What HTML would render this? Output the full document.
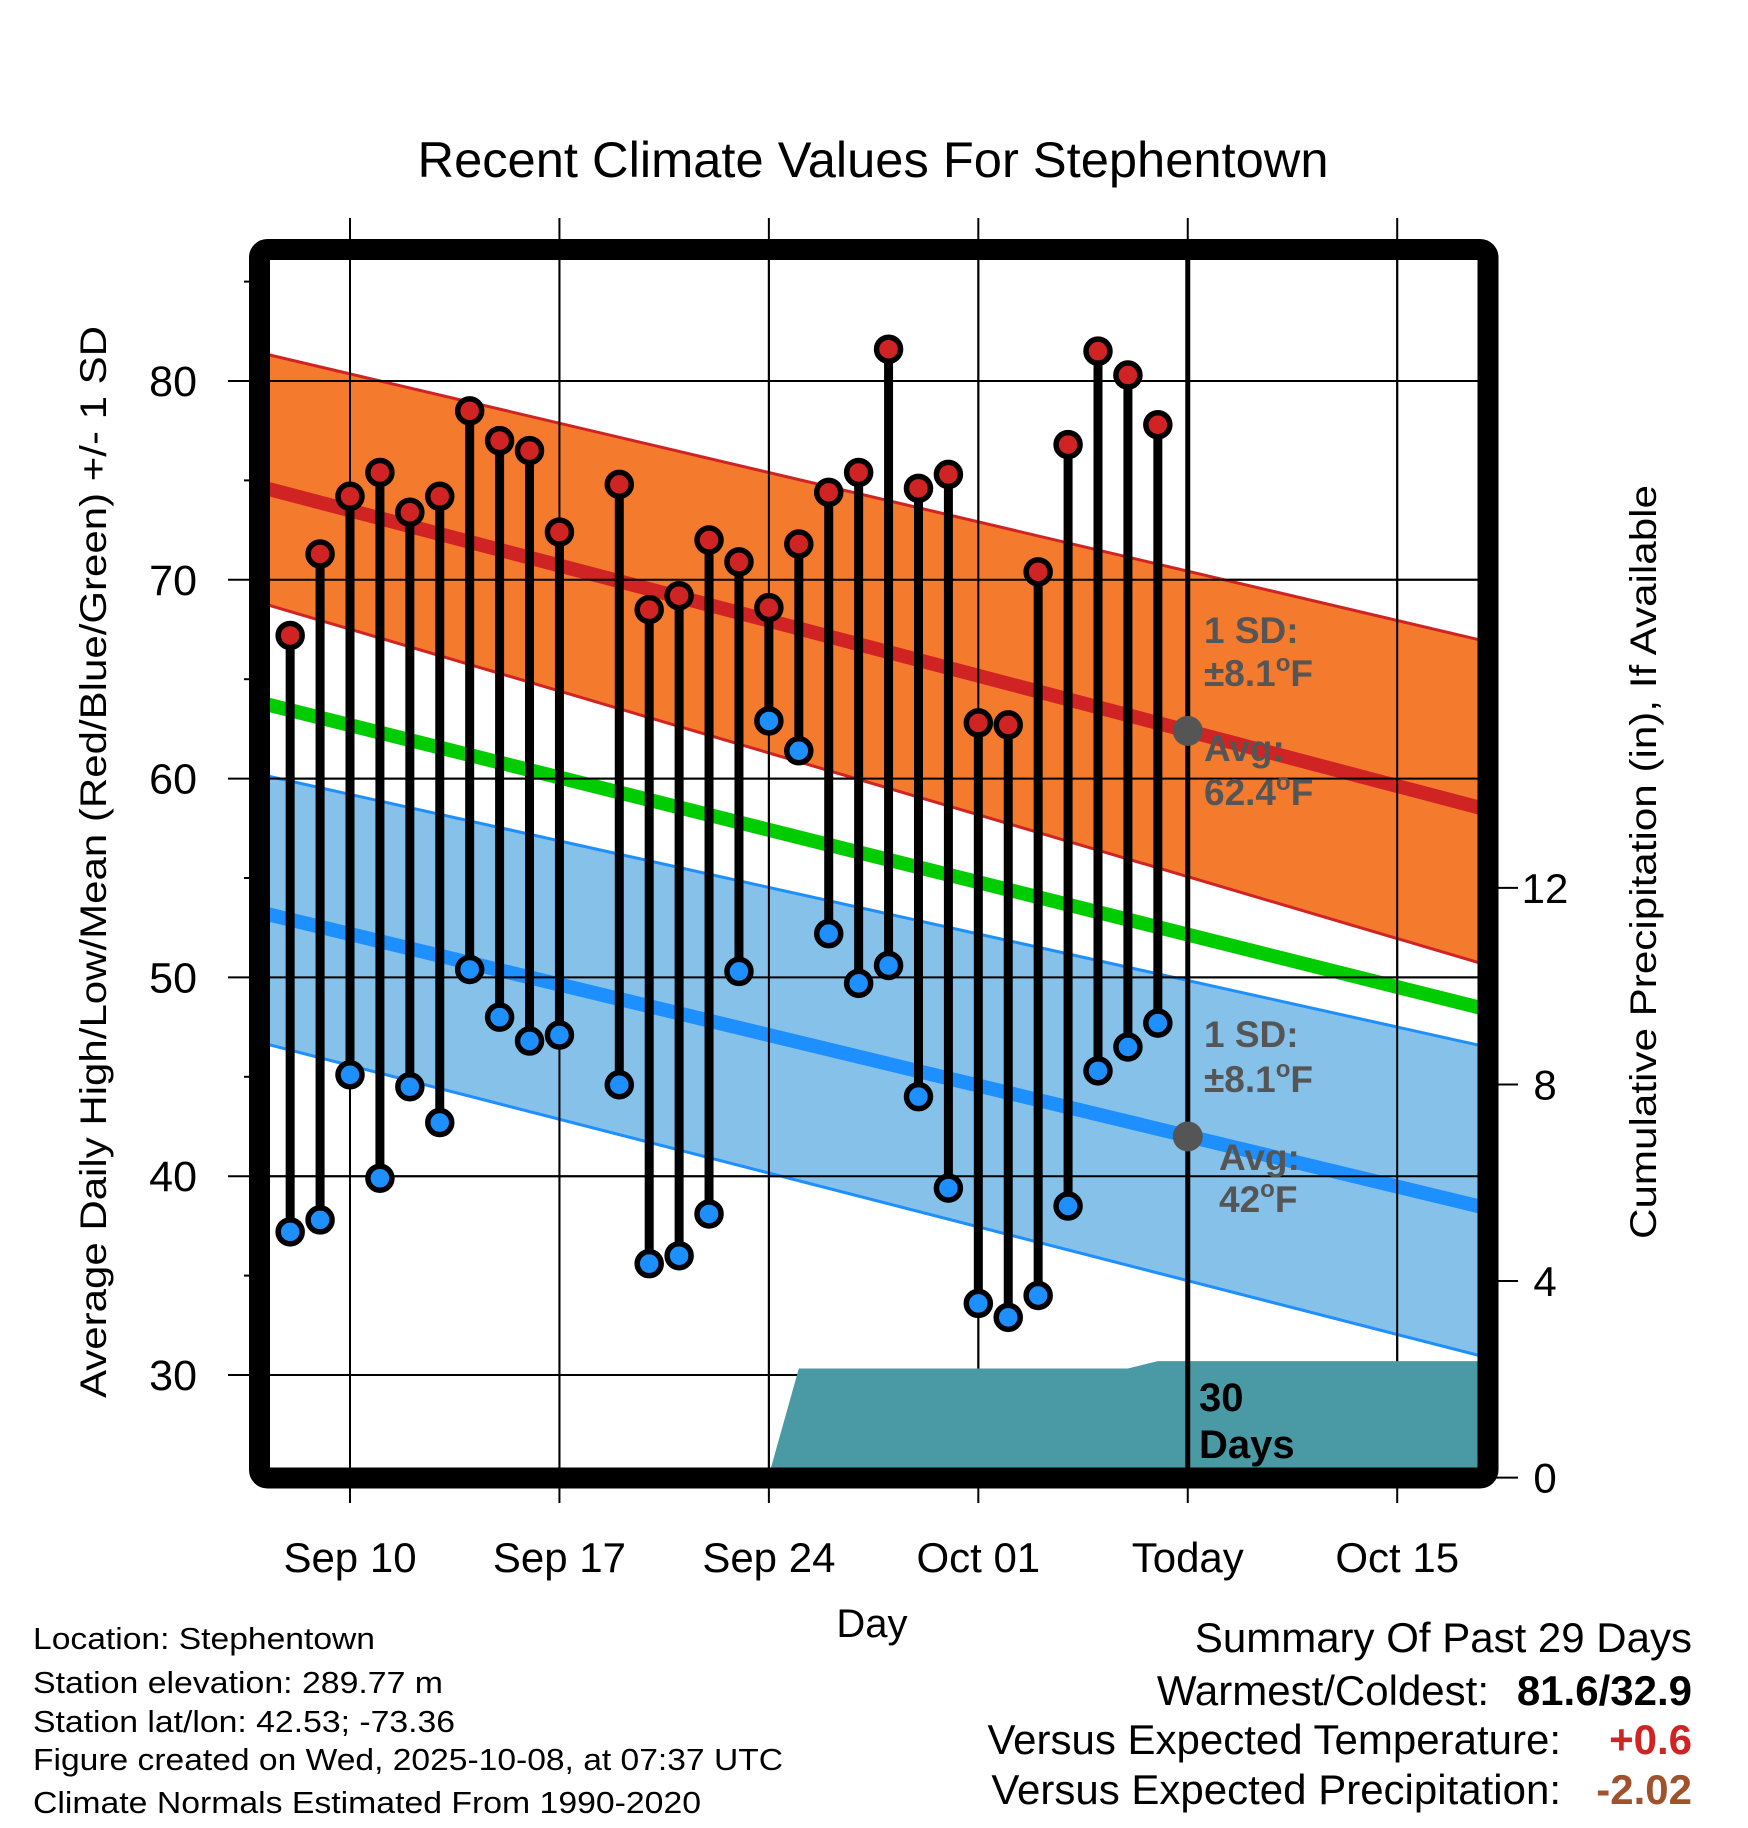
<!DOCTYPE html>
<html><head><meta charset="utf-8"><style>
html,body{margin:0;padding:0;background:#fff;}
svg{display:block;font-family:"Liberation Sans",sans-serif;}
</style></head><body>
<svg id="chart" width="1748" height="1828" viewBox="0 0 1748 1828" xmlns="http://www.w3.org/2000/svg">
<defs><clipPath id="plotclip"><rect x="270" y="260" width="1208" height="1208"/></clipPath></defs>
<rect width="1748" height="1828" fill="#fff"/>
<text x="873" y="177" font-size="50" text-anchor="middle" textLength="911" lengthAdjust="spacingAndGlyphs">Recent Climate Values For Stephentown</text>
<g id="grid"></g>
<g id="plot" clip-path="url(#plotclip)"></g>
<g id="marks"></g>
<rect x="259.5" y="249.5" width="1228.5" height="1228.5" rx="8" fill="none" stroke="#000" stroke-width="21"/>
<g id="axes"></g>
<text transform="translate(106,862) rotate(-90)" font-size="37" text-anchor="middle" textLength="1072" lengthAdjust="spacingAndGlyphs">Average Daily High/Low/Mean (Red/Blue/Green) +/- 1 SD</text>
<text transform="translate(1656,862) rotate(-90)" font-size="37" text-anchor="middle" textLength="754" lengthAdjust="spacingAndGlyphs">Cumulative Precipitation (in), If Available</text>
<text x="872" y="1637" font-size="40" text-anchor="middle">Day</text>
<g font-weight="bold" font-size="37" fill="#555">
<text x="1204" y="643">1 SD:</text>
<text x="1204" y="686">±8.1<tspan font-size="24" dy="-15">o</tspan><tspan dy="15">F</tspan></text>
<text x="1204" y="761">Avg:</text>
<text x="1204" y="805">62.4<tspan font-size="24" dy="-15">o</tspan><tspan dy="15">F</tspan></text>
</g>
<g font-weight="bold" font-size="37" fill="#555">
<text x="1204" y="1047">1 SD:</text>
<text x="1204" y="1092">±8.1<tspan font-size="24" dy="-15">o</tspan><tspan dy="15">F</tspan></text>
<text x="1219" y="1170">Avg:</text>
<text x="1219" y="1212">42<tspan font-size="24" dy="-15">o</tspan><tspan dy="15">F</tspan></text>
</g>
<g font-weight="bold" font-size="40" fill="#000">
<text x="1199" y="1411">30</text><text x="1199" y="1458">Days</text>
</g>
<g font-size="31" fill="#000">
<text x="33" y="1649" textLength="342" lengthAdjust="spacingAndGlyphs">Location: Stephentown</text>
<text x="33" y="1693" textLength="410" lengthAdjust="spacingAndGlyphs">Station elevation: 289.77 m</text>
<text x="33" y="1732" textLength="422" lengthAdjust="spacingAndGlyphs">Station lat/lon: 42.53; -73.36</text>
<text x="33" y="1770" textLength="750" lengthAdjust="spacingAndGlyphs">Figure created on Wed, 2025-10-08, at 07:37 UTC</text>
<text x="33" y="1813" textLength="668" lengthAdjust="spacingAndGlyphs">Climate Normals Estimated From 1990-2020</text>
</g>
<g font-size="42" fill="#000">
<text x="1692" y="1652" text-anchor="end">Summary Of Past 29 Days</text>
<text x="1489" y="1705" text-anchor="end">Warmest/Coldest:</text>
<text x="1692" y="1705" text-anchor="end" font-weight="bold">81.6/32.9</text>
<text x="1561" y="1754" text-anchor="end">Versus Expected Temperature:</text>
<text x="1692" y="1754" text-anchor="end" font-weight="bold" fill="#d02323">+0.6</text>
<text x="1561" y="1804" text-anchor="end">Versus Expected Precipitation:</text>
<text x="1692" y="1804" text-anchor="end" font-weight="bold" fill="#a0522d">-2.02</text>
</g>
</svg>
<script>
// ---- data ----
const dates = ["09-08","09-09","09-10","09-11","09-12","09-13","09-14","09-15","09-16","09-17","09-19","09-20","09-21","09-22","09-23","09-24","09-25","09-26","09-27","09-28","09-29","09-30","10-01","10-02","10-03","10-04","10-05","10-06","10-07"];
const highs = [67.2,71.3,74.2,75.4,73.4,74.2,78.5,77.0,76.5,72.4,74.8,68.5,69.2,72.0,70.9,68.6,71.8,74.4,75.4,81.6,74.6,75.3,62.8,62.7,70.4,76.8,81.5,80.3,77.8];
const lows = [37.2,37.8,45.1,39.9,44.5,42.7,50.4,48.0,46.8,47.1,44.6,35.6,36.0,38.1,50.3,62.9,61.4,52.2,49.7,50.6,44.0,39.4,33.6,32.9,34.0,38.5,45.3,46.5,47.7];
const normDates = ["09-07","10-18"];
const normHighAvg = [74.68,58.44];
const normHighUpper = [81.42,66.89];
const normHighLower = [68.85,50.62];
const normLowAvg = [53.27,38.39];
const normLowUpper = [60.21,46.5];
const normLowLower = [46.73,30.88];
const normMean = [63.82,48.39];
const precipDates = ["09-07","09-22","09-23","09-24","09-25","10-06","10-07","10-18"];
const precipCum = [0,0,0.03,0.05,2.22,2.22,2.37,2.37];
const todayDate = "10-08";
const todayHighAvg = 62.4;
const todayLowAvg = 42.0;
const xTickDates = ["09-10","09-17","09-24","10-01","10-08","10-15"];
const xTickLabels = ["Sep 10","Sep 17","Sep 24","Oct 01","Today","Oct 15"];
const yTicks = [30,40,50,60,70,80];
const yMinorTicks = [35,45,55,65,75,85];
const y2Ticks = [0,4,8,12];

// ---- scales ----
function dayIdx(s){const [m,d]=s.split("-").map(Number);return Date.UTC(2025,m-1,d)/86400000-Date.UTC(2025,8,10)/86400000;}
function X(s){return 350+29.92*dayIdx(s);}
function Y(v){return 381+(80-v)*19.88;}
function Y2(v){return 1477.6-v*49.14;}
const NS="http://www.w3.org/2000/svg";
function mk(tag,attrs,parent){const e=document.createElementNS(NS,tag);for(const k in attrs)e.setAttribute(k,attrs[k]);parent.appendChild(e);return e;}
const grid=document.getElementById('grid'),plot=document.getElementById('plot'),marks=document.getElementById('marks'),axes=document.getElementById('axes');

xTickDates.forEach((d,i)=>{
  const l=mk('line',{x1:X(d),x2:X(d),y1:218,y2:1503,stroke:'#000','stroke-width':2},grid);
  
  
  const t=mk('text',{x:X(d),y:1572,'font-size':42,'text-anchor':'middle'},axes);
  t.textContent=xTickLabels[i];
  
  
});
yTicks.forEach(v=>{
  const l=mk('line',{x1:228,x2:1478,y1:Y(v),y2:Y(v),stroke:'#000','stroke-width':2},grid);
  
  
  const t=mk('text',{x:197,y:Y(v)+15,'font-size':43,'text-anchor':'end'},axes);
  t.textContent=v;
  
  
});
yMinorTicks.forEach(v=>{
  const l=mk('line',{x1:244,x2:252,y1:Y(v),y2:Y(v),stroke:'#000','stroke-width':2},axes);
  
  
});
y2Ticks.forEach(v=>{
  const l=mk('line',{x1:1490,x2:1518,y1:Y2(v),y2:Y2(v),stroke:'#000','stroke-width':2},axes);
  
  
  const t=mk('text',{x:1545,y:Y2(v)+15,'font-size':42,'text-anchor':'middle'},axes);
  t.textContent=v;
  
  
});

function band(up,lo,fill,stroke,name){
  const p=`M${X(normDates[0])},${Y(up[0])}L${X(normDates[1])},${Y(up[1])}L${X(normDates[1])},${Y(lo[1])}L${X(normDates[0])},${Y(lo[0])}Z`;
  const e=mk('path',{d:p,fill:fill},plot);
  
  
  [up,lo].forEach(a=>mk('line',{x1:X(normDates[0]),y1:Y(a[0]),x2:X(normDates[1]),y2:Y(a[1]),stroke:stroke,'stroke-width':3},plot));
}
function line(a,color,w,name){
  const e=mk('line',{x1:X(normDates[0]),y1:Y(a[0]),x2:X(normDates[1]),y2:Y(a[1]),stroke:color,'stroke-width':w},plot);
  
  
}
band(normHighUpper,normHighLower,'#f47a2e','#d02323','high-sd-band');
band(normLowUpper,normLowLower,'#85c1e9','#1e8fff','low-sd-band');
line(normHighAvg,'#d02323',14,'normal-high-line');
line(normLowAvg,'#1e8fff',14,'normal-low-line');
line(normMean,'#00cc00',14,'normal-mean-line');
xTickDates.forEach(d=>mk('line',{x1:X(d),x2:X(d),y1:218,y2:1503,stroke:'#000','stroke-width':2},plot));
yTicks.forEach(v=>mk('line',{x1:228,x2:1478,y1:Y(v),y2:Y(v),stroke:'#000','stroke-width':2},plot));

let pp=`M${X(precipDates[0])},${Y2(0)}`;
precipDates.forEach((d,i)=>{pp+=`L${X(d)},${Y2(precipCum[i])}`;});
pp+=`L${X(precipDates[precipDates.length-1])},${Y2(0)}Z`;
const pa=mk('path',{d:pp,fill:'#4a9aa5'},plot);



const tl=mk('line',{x1:X(todayDate),x2:X(todayDate),y1:260,y2:1468,stroke:'#000','stroke-width':5},plot);



dates.forEach((d,i)=>{
  const x=X(d);
  const s=mk('line',{x1:x,x2:x,y1:Y(highs[i]),y2:Y(lows[i]),stroke:'#000','stroke-width':9},marks);
  
  
});
dates.forEach((d,i)=>{
  const x=X(d);
  const h=mk('circle',{cx:x,cy:Y(highs[i]),r:12,fill:'#d02323',stroke:'#000','stroke-width':5.5},marks);
  
  
  const l=mk('circle',{cx:x,cy:Y(lows[i]),r:12,fill:'#1e8fff',stroke:'#000','stroke-width':5.5},marks);
  
  
});
const g1=mk('circle',{cx:X(todayDate),cy:Y(todayHighAvg),r:15,fill:'#555'},marks);


const g2=mk('circle',{cx:X(todayDate),cy:Y(todayLowAvg),r:15,fill:'#555'},marks);


</script>
</body></html>
